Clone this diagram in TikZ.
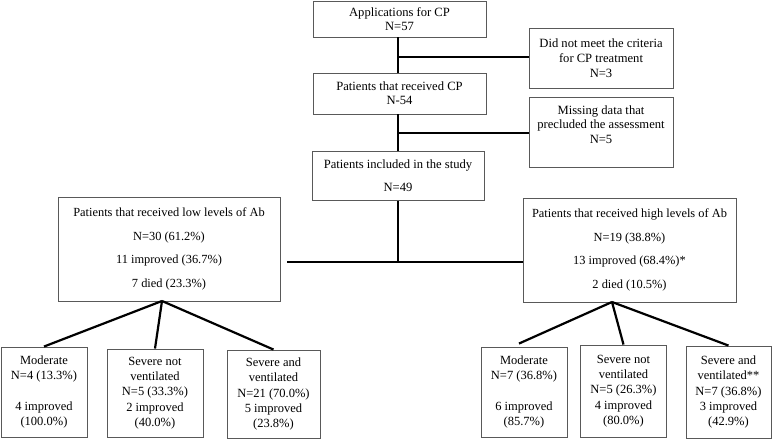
\documentclass[tikz,border=0pt]{standalone}
\usepackage{fontspec}
\setmainfont{Liberation Serif}
\usetikzlibrary{calc}
\begin{document}
\begin{tikzpicture}[x=1pt,y=-1pt,
  bx/.style={draw=black!65, line width=0.9pt, inner sep=0pt, align=center, fill=white},
  topf/.style={font=\fontsize{12.6}{14}\selectfont},
  sidef/.style={font=\fontsize{12.6}{14.8}\selectfont},
  midf/.style={font=\fontsize{12.4}{23.6}\selectfont},
  botf/.style={font=\fontsize{12.5}{15.2}\selectfont},
  conn/.style={line width=2.2pt, black}]
\useasboundingbox (0,0) rectangle (772,439);

% top chain
\node[bx, topf, minimum width=173, minimum height=36] (app) at (399.5,19) {Applications for CP\\N=57};
\node[bx, sidef, minimum width=144, minimum height=60] (side1) at (601,58) {Did not meet the criteria\\for CP treatment\\N=3};
\node[bx, topf, minimum width=173, minimum height=41] (rcp) at (399.5,93.5) {Patients that received CP\\N-54};
\node[bx, sidef, minimum width=144, minimum height=70] (side2) at (601,132) {Missing data that\\precluded the assessment\\N=5\\\mbox{}};
\node[bx, font=\fontsize{12.6}{23}\selectfont, minimum width=172, minimum height=49] (incl) at (398,176) {Patients included in the study\\N=49};

% groups
\node[bx, midf, minimum width=222, minimum height=104] (lo) at (169,249) {Patients that received low levels of Ab\\N=30 (61.2\%)\\11 improved (36.7\%)\\7 died (23.3\%)};
\node[bx, midf, minimum width=213, minimum height=104] (hi) at (629.5,250) {Patients that received high levels of Ab\\N=19 (38.8\%)\\13 improved (68.4\%)*\\2 died (10.5\%)};

% bottom left
\node[bx, botf, minimum width=86, minimum height=90] (m1) at (44,392) {Moderate\\N=4 (13.3\%)\\\mbox{}\\4 improved\\(100.0\%)};
\node[bx, botf, minimum width=96, minimum height=88] (s1) at (155,393) {Severe not\\ventilated\\N=5 (33.3\%)\\2 improved\\(40.0\%)};
\node[bx, botf, minimum width=93, minimum height=88] (v1) at (273.5,394) {Severe and\\ventilated\\N=21 (70.0\%)\\5 improved\\(23.8\%)};

% bottom right
\node[bx, botf, minimum width=86, minimum height=90] (m2) at (524,392) {Moderate\\N=7 (36.8\%)\\\mbox{}\\6 improved\\(85.7\%)};
\node[bx, botf, minimum width=86, minimum height=92] (s2) at (623.5,391) {Severe not\\ventilated\\N=5 (26.3\%)\\4 improved\\(80.0\%)};
\node[bx, botf, minimum width=85, minimum height=92] (v2) at (728.5,392) {Severe and\\ventilated**\\N=7 (36.8\%)\\3 improved\\(42.9\%)};

% junction coordinates
\coordinate (b1) at (398,57);
\coordinate (b2) at (398,133);
\coordinate (jn) at (398,262);
\coordinate (loapex) at (162,301);
\coordinate (hiapex) at (612,302);

% connectors
\draw[conn] (app.south -| b1) -- (rcp.north -| b1);
\draw[conn] (b1) -- (side1.west |- b1);
\draw[conn] (rcp.south -| b2) -- (incl.north -| b2);
\draw[conn] (b2) -- (side2.west |- b2);
\draw[conn] (incl.south -| jn) -- (jn);
\draw[conn] ($(lo.east |- jn)+(7,0)$) -- (hi.west |- jn);
\draw[conn] (loapex) -- (m1.north);
\draw[conn] (loapex) -- (s1.north);
\draw[conn] (loapex) -- (v1.north);
\draw[conn] (hiapex) -- ($(m2.north)+(-5,-3)$);
\draw[conn] (hiapex) -- (s2.north);
\draw[conn] (hiapex) -- (v2.north);
\end{tikzpicture}
\end{document}
